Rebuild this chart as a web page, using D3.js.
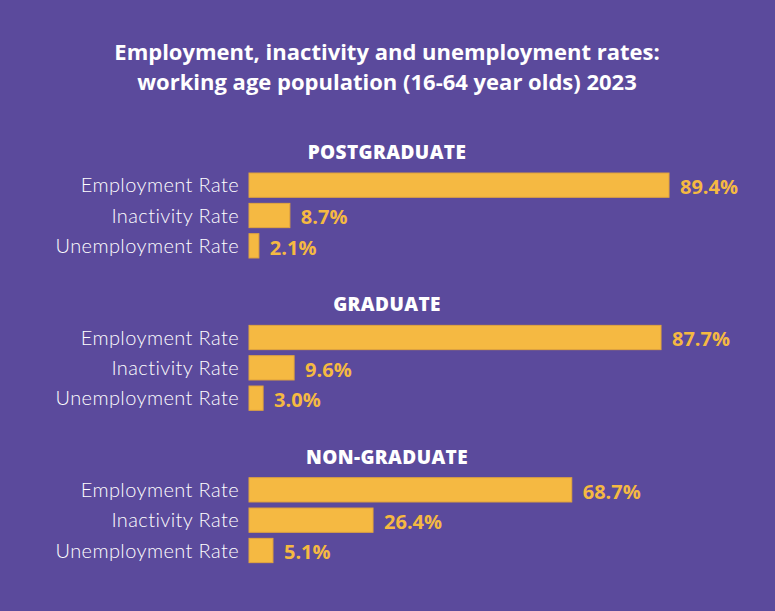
<!DOCTYPE html>
<meta charset="utf-8">
<head>
  <script src="https://d3js.org/d3.v7.min.js"></script>
  <style>
    body { margin: 0; background: #5b4a9c; }
    text { font-family: "Open Sans", "Lato", sans-serif; }
  </style>
</head>
<body>
<div id="display"></div>
<script>
  var groups = ["POSTGRADUATE", "GRADUATE", "NON-GRADUATE"];
  var measures = ["Employment Rate", "Inactivity Rate", "Unemployment Rate"];
  var postgraduate = [89.4, 8.7, 2.1];
  var graduate = [87.7, 9.6, 3.0];
  var nonGraduate = [68.7, 26.4, 5.1];
  var seriesValues = [postgraduate, graduate, nonGraduate];

  var width = 775, height = 611;

  var svg = d3.select("#display")
    .append("svg")
      .attr("width", width)
      .attr("height", height);

  svg.append("rect")
    .attr("width", width)
    .attr("height", height)
    .attr("fill", "#5b4a9c");

  // title
  var title = svg.append("text")
    .attr("x", 387)
    .attr("text-anchor", "middle")
    .attr("fill", "#ffffff")
    .style("font-size", "22px")
    .style("font-weight", "bold");
  title.append("tspan").attr("x", 387).attr("y", 60)
    .text("Employment, inactivity and unemployment rates:");
  title.append("tspan").attr("x", 387).attr("y", 90)
    .text("working age population (16-64 year olds) 2023");

  var x = d3.scaleLinear()
    .domain([0, 100])
    .range([249, 249 + 469.8]);

  var gy = d3.scaleBand()
    .domain(groups)
    .range([140, 597]);

  var ry = d3.scaleBand()
    .domain(measures)
    .range([30, 121])
    .paddingInner(0.2)
    .paddingOuter(0.1);

  var g = svg.selectAll("g.group")
    .data(groups)
    .enter()
    .append("g")
      .attr("class", "group")
      .attr("transform", function(d) { return "translate(0," + gy(d) + ")"; });

  g.append("text")
    .attr("x", 387)
    .attr("y", 19)
    .attr("text-anchor", "middle")
    .attr("fill", "#ffffff")
    .style("font-size", "19px")
    .style("font-weight", "800")
    .style("letter-spacing", "0.4px")
    .text(function(d) { return d; });

  var rows = g.selectAll("g.row")
    .data(function(d, i) {
      return measures.map(function(m, j) { return { measure: m, value: seriesValues[i][j] }; });
    })
    .enter()
    .append("g")
      .attr("class", "row")
      .attr("transform", function(d) { return "translate(0," + ry(d.measure) + ")"; });

  rows.append("rect")
    .attr("x", x(0))
    .attr("y", 0)
    .attr("width", function(d) { return x(d.value) - x(0); })
    .attr("height", ry.bandwidth())
    .attr("fill", "#f5b942")
    .attr("stroke", "#e3a53c")
    .attr("stroke-width", 1);

  rows.append("text")
    .attr("x", 239)
    .attr("y", ry.bandwidth() / 2)
    .attr("dy", "0.35em")
    .attr("text-anchor", "end")
    .attr("fill", "#ffffff")
    .style("font-family", "Lato, sans-serif")
    .style("font-size", "20px")
    .style("font-weight", "300")
    .style("letter-spacing", "0.4px")
    .text(function(d) { return d.measure; });

  rows.append("text")
    .attr("x", function(d) { return x(d.value) + 11; })
    .attr("y", ry.bandwidth() / 2 + 2)
    .attr("dy", "0.35em")
    .attr("fill", "#f5b942")
    .style("font-size", "20px")
    .style("font-weight", "bold")
    .text(function(d) { return d.value.toFixed(1) + "%"; });
</script>
</body>
